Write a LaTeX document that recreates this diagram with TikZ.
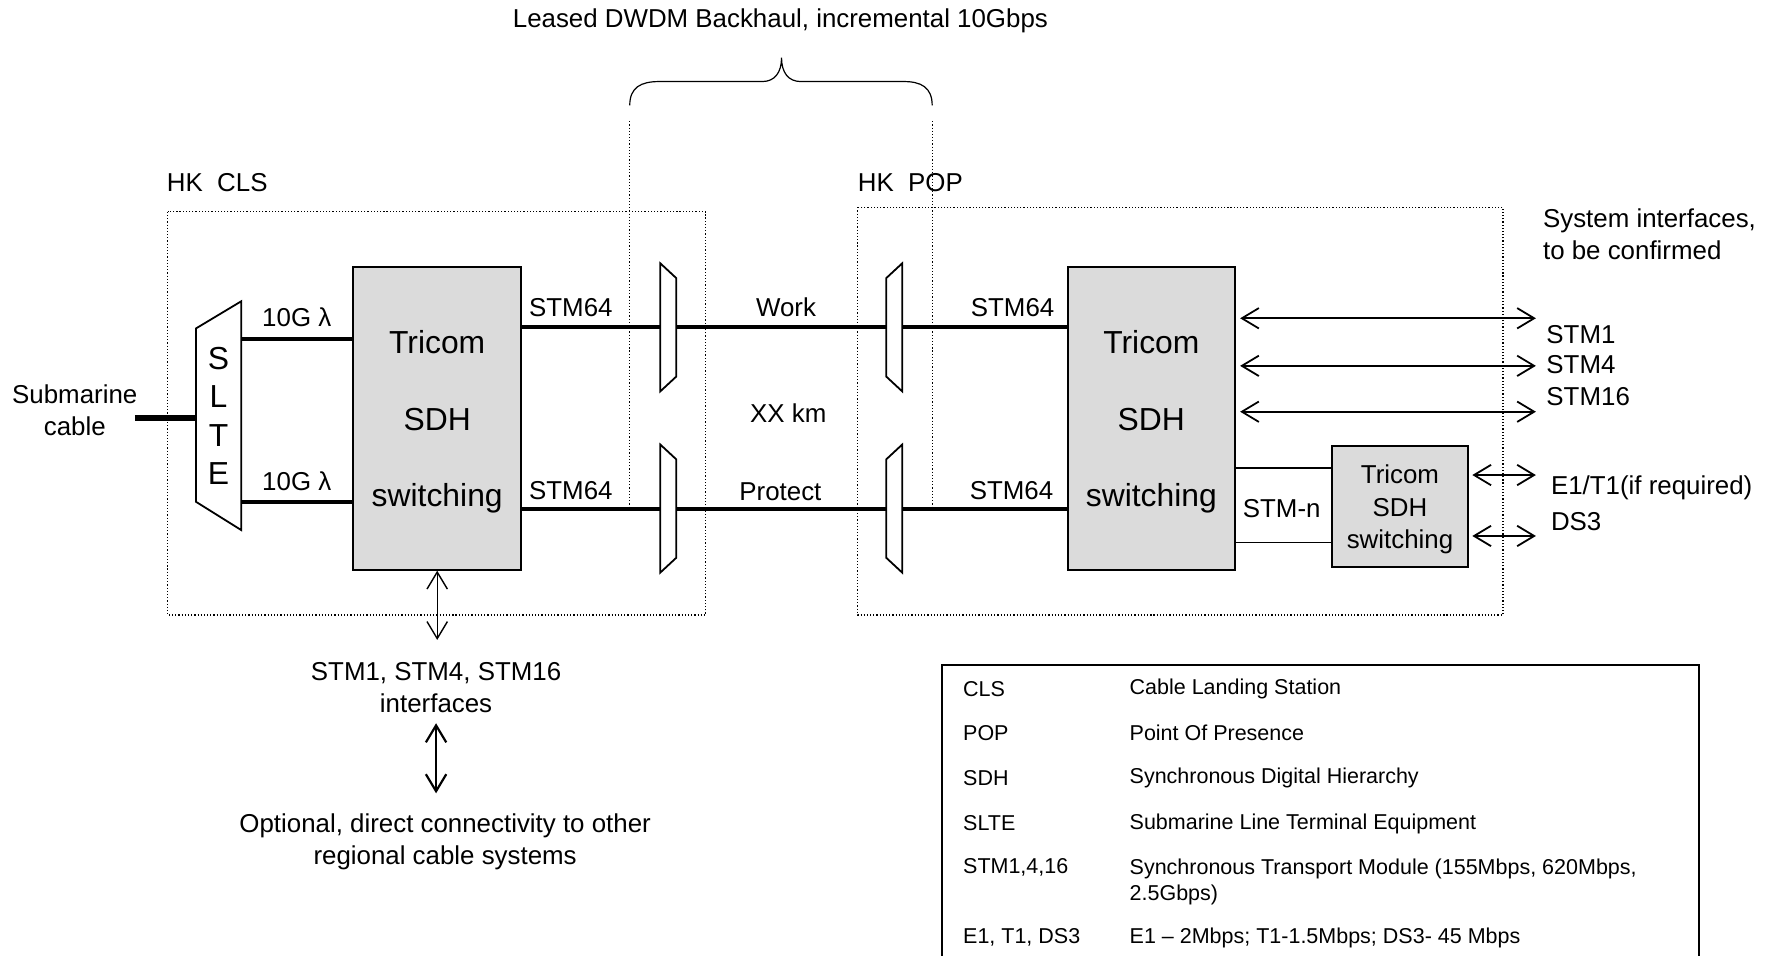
\documentclass[tikz,border=0pt]{standalone}
\usepackage{fontspec}
\setmainfont{Liberation Sans}
\usetikzlibrary{arrows.meta}
\newcommand{\bigsdh}{\fontsize{16}{38.6}\selectfont}
\newcommand{\legendfont}{\fontsize{10.8}{13.1}\selectfont}

\begin{document}
\begin{tikzpicture}[x=0.2mm, y=-0.2mm,
    font=\fontsize{13}{16.2}\selectfont,
    sdh/.style={draw, line width=1pt, fill=black!14, inner sep=0pt, align=center, text depth=0pt},
    fibre/.style={line width=2pt},
    thinlink/.style={line width=0.8pt},
    biarrow/.style={{Straight Barb[length=3mm,width=3.6mm]}-{Straight Barb[length=3mm,width=3.6mm]}, line width=0.9pt},
    mux/.style={minimum width=2.8mm, minimum height=22.6mm, inner sep=0pt, outer sep=0pt},
    muxline/.style={line width=0.9pt, line join=miter},
    station/.style={densely dotted, line width=0.6pt},
    legendtext/.style={anchor=west, font=\legendfont, align=left, inner sep=0pt}]
    \useasboundingbox (0,0) rectangle (1568,844);

    % Leased backhaul brace
    \node (backhaul) at (689,18) {Leased DWDM Backhaul, incremental 10Gbps};
    \draw[line width=0.6pt] (556,93) .. controls (556,77) and (566,72) .. (582,72) -- (673,72)
        .. controls (684,72) and (690,64) .. (690,51) .. controls (690,64) and (696,72) .. (707,72)
        -- (798,72) .. controls (813,72) and (823,77) .. (823,93);
    \draw[station] (556,107) -- (556,449);
    \draw[station] (823,107) -- (823,449);

    % HK CLS
    \draw[station] (148,187) rectangle (623,543);
    \node[anchor=west, inner sep=0pt] (clsLabel) at (147,161) {HK~ CLS};
    \node[align=center] (cable) at (66,362) {Submarine\\cable};
    \coordinate (cableEnd) at (119,369);
    \node[inner sep=0pt, outer sep=0pt, minimum width=8mm, minimum height=40.4mm, align=center,
          font=\fontsize{16}{19.3}\selectfont, text depth=0pt] (slte) at (193,367) {S\\L\\T\\E};
    \draw[muxline] (slte.north east) -- (slte.south east) -- ([yshift=5mm]slte.south west)
        -- ([yshift=-4.8mm]slte.north west) -- cycle;
    \draw[line width=3.3pt] (cableEnd) -- (slte.west |- cableEnd);
    \node[sdh, minimum width=29.6mm, minimum height=53.4mm, font=\bigsdh] (tricomA) at (386,369.5) {Tricom\\SDH\\switching};
    \draw[fibre] (slte.east |- 0,299) -- (tricomA.west |- 0,299);
    \draw[fibre] (slte.east |- 0,443) -- (tricomA.west |- 0,443);
    \node (lambdaA) at (262,280) {10G λ};
    \node (lambdaB) at (262,425) {10G λ};

    % DWDM terminals
    \node[mux] (muxA) at (590,289) {};
    \node[mux] (muxC) at (590,449) {};
    \node[mux] (muxB) at (789.5,289) {};
    \node[mux] (muxD) at (789.5,449) {};
    \draw[muxline] (muxA.north west) -- ([yshift=-2.6mm]muxA.north east) -- ([yshift=2.6mm]muxA.south east) -- (muxA.south west) -- cycle;
    \draw[muxline] (muxC.north west) -- ([yshift=-2.6mm]muxC.north east) -- ([yshift=2.6mm]muxC.south east) -- (muxC.south west) -- cycle;
    \draw[muxline] (muxB.north east) -- ([yshift=-2.6mm]muxB.north west) -- ([yshift=2.6mm]muxB.south west) -- (muxB.south east) -- cycle;
    \draw[muxline] (muxD.north east) -- ([yshift=-2.6mm]muxD.north west) -- ([yshift=2.6mm]muxD.south west) -- (muxD.south east) -- cycle;

    % HK POP
    \draw[station] (757,183) rectangle (1327,543);
    \node[anchor=west, inner sep=0pt] (popLabel) at (757,161) {HK~ POP};
    \node[sdh, minimum width=29.4mm, minimum height=53.4mm, font=\bigsdh] (tricomB) at (1016.5,369.5) {Tricom\\SDH\\switching};
    \node[sdh, minimum width=24mm, minimum height=21.4mm] (tricomC) at (1236,447.5) {Tricom\\SDH\\switching};

    % Work and protect paths
    \draw[fibre] (tricomA.east |- muxA) -- (muxA.west);
    \draw[fibre] (muxA.east) -- (muxB.west);
    \draw[fibre] (muxB.east) -- (tricomB.west |- muxB);
    \draw[fibre] (tricomA.east |- muxC) -- (muxC.west);
    \draw[fibre] (muxC.east) -- (muxD.west);
    \draw[fibre] (muxD.east) -- (tricomB.west |- muxD);
    \node (stmA) at (504,272) {STM64};
    \node (stmC) at (504,433) {STM64};
    \node (stmB) at (894,272) {STM64};
    \node (stmD) at (893,433) {STM64};
    \node (work) at (694,271) {Work};
    \node (distance) at (696,365) {XX km};
    \node (protect) at (689,434) {Protect};

    % STM-n link
    \draw[thinlink] (tricomB.east |- 0,413) -- (tricomC.west |- 0,413);
    \draw[thinlink] (tricomB.east |- 0,479) -- (tricomC.west |- 0,479);
    \node (stmn) at (1131.6,449) {STM-n};

    % System interfaces
    \node[anchor=west, align=left, inner sep=0pt] (sysIf) at (1362,206.5) {System interfaces,\\to be confirmed};
    \coordinate (ifOne) at (1356,281);
    \coordinate (ifFour) at (1356,323);
    \coordinate (ifSixteen) at (1356,363.5);
    \coordinate (ifEone) at (1356,419.4);
    \coordinate (ifDsThree) at (1356,473.2);
    \draw[biarrow, shorten <=0.8mm] (tricomB.east |- ifOne) -- (ifOne);
    \draw[biarrow, shorten <=0.8mm] (tricomB.east |- ifFour) -- (ifFour);
    \draw[biarrow, shorten <=0.8mm] (tricomB.east |- ifSixteen) -- (ifSixteen);
    \draw[biarrow, shorten <=0.6mm] (tricomC.east |- ifEone) -- (ifEone);
    \draw[biarrow, shorten <=0.6mm] (tricomC.east |- ifDsThree) -- (ifDsThree);
    \node[anchor=west, inner sep=0pt] (lblOne) at (1365,295) {STM1};
    \node[anchor=west, inner sep=0pt] (lblFour) at (1365,322) {STM4};
    \node[anchor=west, inner sep=0pt] (lblSixteen) at (1365,350) {STM16};
    \node[anchor=west, inner sep=0pt] (lblEone) at (1369,431) {E1/T1(if required)};
    \node[anchor=west, inner sep=0pt] (lblDsThree) at (1369,460.5) {DS3};

    % Regional interfaces
    \node[align=center] (regional) at (385,607) {STM1, STM4, STM16\\interfaces};
    \node[align=center] (optional) at (393,743) {Optional, direct connectivity to other\\regional cable systems};
    \draw[biarrow, line width=0.7pt, shorten >=2.7mm] (tricomA.south) -- (tricomA.south |- regional.north);
    \draw[biarrow, line width=1.1pt, shorten <=0.6mm, shorten >=2.3mm] (regional.south) -- (regional.south |- optional.north);

    % Legend
    \draw[line width=1.1pt] (832,844) |- (1500,587) -- (1500,844);
    \node[legendtext] (abbrCls) at (850,608) {CLS};
    \node[legendtext] (descCls) at (997,608) {Cable Landing Station};
    \node[legendtext] (abbrPop) at (850,647) {POP};
    \node[legendtext] (descPop) at (997,647) {Point Of Presence};
    \node[legendtext] (abbrSdh) at (850,687) {SDH};
    \node[legendtext] (descSdh) at (997,687) {Synchronous Digital Hierarchy};
    \node[legendtext] (abbrSlte) at (850,727) {SLTE};
    \node[legendtext] (descSlte) at (997,727) {Submarine Line Terminal Equipment};
    \node[legendtext] (abbrStm) at (850,766) {STM1,4,16};
    \node[legendtext] (descStm) at (997,779) {Synchronous Transport Module (155Mbps, 620Mbps,\\2.5Gbps)};
    \node[legendtext] (abbrEone) at (850,828) {E1, T1, DS3};
    \node[legendtext] (descEone) at (997,828) {E1 – 2Mbps; T1-1.5Mbps; DS3- 45 Mbps};
\end{tikzpicture}
\end{document}
